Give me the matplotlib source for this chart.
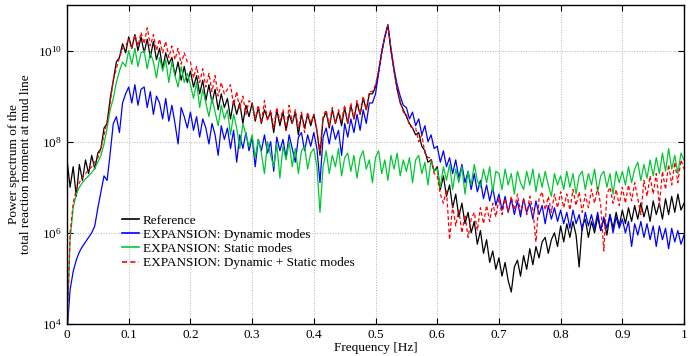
import numpy as np
import matplotlib
matplotlib.use("Agg")
import matplotlib.pyplot as plt
from matplotlib.ticker import FixedLocator, FuncFormatter

plt.rcParams['font.family'] = ['Liberation Serif', 'DejaVu Serif']
plt.rcParams['mathtext.fontset'] = 'stix'

# frequency step of the spectra [Hz]
df = 0.005

# log10 of the power spectrum, one row per 0.1 Hz
ref_log = [
    7.60, 7.00, 7.45, 6.80, 7.50, 7.15, 7.60, 7.30, 7.70, 7.40, 7.75, 7.85, 8.30, 8.40, 8.95, 9.35, 9.75, 9.85, 10.15, 9.95,
    10.30, 10.05, 10.35, 10.00, 10.30, 9.95, 10.25, 9.85, 10.20, 9.80, 10.05, 9.60, 9.95, 9.70, 9.85, 9.45, 9.75, 9.35, 9.65, 9.30,
    9.55, 9.20, 9.45, 9.05, 9.35, 8.90, 9.25, 8.85, 9.15, 8.70, 9.05, 8.75, 8.95, 8.50, 8.90, 8.60, 8.85, 8.40, 8.80, 8.55,
    8.85, 8.45, 8.75, 8.40, 8.70, 8.50, 8.65, 8.20, 8.70, 8.35, 8.65, 8.25, 8.60, 8.40, 8.65, 8.15, 8.60, 8.30, 8.60, 8.35,
    8.60, 8.25, 7.70, 8.50, 8.65, 8.30, 8.70, 8.40, 8.65, 8.35, 8.75, 8.40, 8.80, 8.50, 8.85, 8.60, 8.95, 8.70, 9.05, 9.05,
    9.20, 9.55, 9.95, 10.30, 10.57, 10.00, 9.55, 9.15, 8.85, 8.70, 8.55, 8.40, 8.30, 8.15, 8.20, 7.90, 7.80, 7.55, 7.60, 7.35,
    7.45, 6.95, 7.25, 6.80, 7.05, 6.55, 6.85, 6.35, 6.65, 6.20, 6.45, 6.00, 6.25, 5.75, 6.05, 5.55, 5.85, 5.35, 5.60, 5.20,
    5.45, 5.05, 5.35, 4.95, 4.70, 5.25, 5.40, 5.05, 5.50, 5.20, 5.65, 5.30, 5.70, 5.45, 5.80, 5.90, 5.55, 5.85, 6.00, 5.70,
    6.15, 5.80, 6.20, 5.90, 6.25, 5.95, 5.25, 6.15, 6.30, 5.90, 6.25, 6.00, 6.35, 6.05, 6.30, 5.95, 6.40, 6.10, 6.45, 6.15,
    6.50, 6.20, 6.55, 6.25, 6.60, 6.30, 6.65, 6.35, 6.60, 6.25, 6.70, 6.40, 6.65, 6.30, 6.75, 6.40, 6.80, 6.45, 6.85, 6.50, 6.65,
]

dyn_log = [
    3.80, 4.75, 5.15, 5.40, 5.58, 5.70, 5.80, 5.90, 6.00, 6.15, 6.55, 6.90, 7.25, 7.15, 7.75, 8.40, 8.55, 8.20, 8.85, 9.05,
    9.20, 8.85, 9.25, 8.80, 9.15, 9.20, 8.75, 9.10, 8.60, 9.00, 8.85, 8.50, 8.95, 8.45, 8.80, 8.40, 7.95, 8.75, 8.55, 8.30,
    8.65, 8.25, 8.55, 8.10, 8.50, 8.30, 7.95, 8.40, 8.15, 7.70, 8.35, 8.05, 8.30, 7.85, 8.25, 7.55, 8.15, 7.85, 8.20, 7.80,
    8.10, 7.45, 8.05, 7.80, 8.15, 7.75, 8.00, 7.35, 8.10, 7.80, 8.05, 7.65, 8.15, 7.85, 7.55, 8.10, 8.20, 7.80, 8.15, 7.90,
    8.20, 7.85, 7.10, 8.10, 8.30, 7.95, 8.35, 8.05, 8.25, 7.70, 8.40, 8.10, 8.50, 8.20, 8.60, 8.25, 8.70, 8.40, 8.85, 8.85,
    9.05, 9.50, 9.95, 10.30, 10.55, 10.05, 9.60, 9.25, 9.00, 8.80, 8.75, 8.50, 8.65, 8.35, 8.50, 8.15, 8.35, 8.00, 8.15, 7.85,
    7.90, 7.55, 7.80, 7.45, 7.65, 7.30, 7.60, 7.20, 7.50, 7.10, 7.35, 6.95, 7.30, 6.90, 7.15, 6.75, 7.05, 6.70, 7.00, 6.60,
    6.85, 6.50, 6.80, 6.45, 6.75, 6.40, 6.70, 6.35, 6.75, 6.45, 6.65, 6.30, 6.70, 6.40, 6.60, 6.20, 6.60, 6.30, 6.55, 6.25,
    6.50, 6.20, 6.45, 6.10, 6.50, 6.20, 6.40, 6.05, 6.45, 6.15, 6.40, 6.10, 6.45, 6.05, 6.35, 6.10, 6.40, 6.00, 6.35, 6.10,
    6.30, 6.00, 6.25, 5.70, 6.20, 5.95, 6.25, 5.90, 6.20, 5.85, 6.15, 5.70, 6.15, 5.85, 6.10, 5.65, 6.10, 5.80, 6.05, 5.75, 5.95,
]

stat_log = [
    3.80, 5.85, 6.55, 6.85, 7.00, 7.10, 7.18, 7.25, 7.32, 7.42, 7.55, 7.70, 7.95, 8.30, 8.70, 8.95, 9.30, 9.55, 9.75, 9.65,
    10.00, 9.70, 10.05, 9.65, 9.95, 10.00, 9.60, 9.95, 9.75, 9.40, 9.85, 9.55, 9.80, 9.30, 9.75, 9.45, 9.20, 9.65, 9.30, 9.50,
    9.25, 8.95, 9.30, 8.75, 9.15, 8.85, 8.55, 8.95, 8.65, 8.35, 8.80, 8.50, 8.70, 8.15, 8.60, 8.30, 7.85, 8.40, 8.15, 7.90,
    8.15, 7.65, 8.05, 7.75, 7.30, 8.00, 7.70, 7.45, 7.95, 7.20, 7.90, 7.60, 8.00, 7.45, 7.85, 7.30, 7.80, 7.90, 7.40, 7.75,
    7.85, 7.45, 6.45, 7.45, 7.80, 7.30, 7.70, 7.45, 7.85, 7.25, 7.65, 7.75, 7.35, 7.70, 7.20, 7.65, 7.80, 7.40, 7.60, 7.10,
    7.65, 7.80, 7.30, 7.60, 7.15, 7.70, 7.40, 7.75, 7.25, 7.60, 7.35, 7.65, 7.10, 7.60, 7.70, 7.30, 7.55, 7.05, 7.60, 7.35,
    7.40, 7.00, 7.45, 7.15, 7.50, 6.95, 7.40, 7.10, 7.45, 6.85, 7.35, 7.05, 7.50, 7.15, 7.00, 7.40, 7.10, 7.45, 6.90, 7.35,
    7.30, 6.95, 7.40, 7.05, 7.30, 6.85, 7.35, 7.10, 6.95, 7.35, 7.05, 7.40, 6.90, 7.30, 7.00, 7.35, 7.05, 6.80, 7.30, 7.05,
    7.25, 6.95, 7.35, 7.00, 7.30, 6.85, 7.25, 7.35, 6.95, 7.30, 7.05, 7.40, 6.90, 7.25, 7.35, 7.00, 7.30, 6.85, 7.35, 7.10,
    7.35, 7.05, 7.45, 7.10, 7.40, 7.55, 7.15, 7.50, 7.20, 7.60, 7.25, 7.65, 7.30, 7.75, 7.35, 7.85, 7.40, 7.70, 7.30, 7.75, 7.60,
]

both_log = [
    3.80, 6.00, 6.65, 6.95, 7.10, 7.22, 7.30, 7.38, 7.45, 7.55, 7.65, 7.85, 8.15, 8.45, 8.85, 9.35, 9.60, 9.85, 10.05, 10.10,
    10.25, 10.05, 10.35, 10.10, 10.40, 10.15, 10.50, 10.10, 10.35, 10.00, 10.25, 9.95, 10.20, 9.85, 10.10, 9.80, 10.05, 9.70, 9.95, 9.75,
    9.75, 9.40, 9.65, 9.30, 9.60, 9.20, 9.50, 9.10, 9.45, 9.00, 9.30, 9.05, 9.15, 9.25, 8.80, 9.10, 8.70, 9.00, 8.60, 8.90,
    8.85, 8.50, 8.80, 8.40, 8.90, 8.45, 8.70, 8.30, 8.75, 8.45, 8.70, 8.25, 8.80, 8.40, 8.70, 8.30, 8.65, 8.20, 8.65, 8.40,
    8.60, 8.25, 7.80, 8.55, 8.70, 8.35, 8.75, 8.40, 8.70, 8.45, 8.80, 8.40, 8.85, 8.50, 8.90, 8.60, 9.00, 8.70, 9.10, 9.10,
    9.25, 9.55, 10.00, 10.30, 10.55, 10.05, 9.55, 9.15, 8.90, 8.65, 8.60, 8.35, 8.30, 8.30, 8.00, 8.15, 7.75, 7.65, 7.65, 7.30,
    7.25, 6.85, 6.65, 6.95, 5.85, 6.60, 6.15, 6.50, 6.00, 6.40, 5.90, 6.30, 6.45, 6.05, 6.55, 6.20, 6.60, 6.25, 6.65, 6.35,
    6.75, 6.40, 6.75, 6.45, 6.80, 6.50, 6.85, 6.45, 6.75, 6.40, 6.80, 6.50, 5.80, 6.75, 6.90, 6.50, 6.80, 6.45, 6.85, 6.55,
    6.90, 6.55, 6.85, 6.50, 6.95, 6.60, 6.90, 6.45, 6.85, 6.55, 6.95, 6.65, 7.00, 6.60, 5.60, 6.85, 7.00, 6.65, 6.95, 6.60,
    7.00, 6.65, 7.05, 6.70, 7.10, 6.75, 6.40, 7.15, 6.80, 7.25, 6.85, 7.30, 6.60, 7.35, 6.95, 7.50, 7.05, 7.55, 7.10, 7.60, 7.40,
]

labels = ['Reference',
          'EXPANSION: Dynamic modes',
          'EXPANSION: Static modes',
          'EXPANSION: Dynamic + Static modes']

freq = np.arange(len(ref_log)) * df

fig = plt.figure(figsize=(6.98, 3.56), dpi=100)
ax = fig.add_axes([0.096, 0.090, 0.884, 0.896])

ax.semilogy(freq, 10 ** np.array(ref_log), color='k', lw=0.9, label=labels[0])
ax.semilogy(freq, 10 ** np.array(dyn_log), color='#0000ff', lw=0.9, label=labels[1])
ax.semilogy(freq, 10 ** np.array(stat_log), color='#00c832', lw=0.9, label=labels[2])
ax.semilogy(freq, 10 ** np.array(both_log), color='#ff0000', lw=0.9, ls=(0, (3, 2)), label=labels[3])

ax.set_xlim(0, 1)
ax.set_ylim(1e4, 1e11)
ax.set_xticks(np.arange(0, 1.01, 0.1))
ax.xaxis.set_major_formatter(FuncFormatter(lambda v, p: '%g' % round(v, 1)))
ax.yaxis.set_major_locator(FixedLocator([1e4, 1e6, 1e8, 1e10]))
ax.yaxis.set_minor_locator(FixedLocator([]))
ax.tick_params(which='both', direction='in', top=True, right=True, labelsize=9.5, length=4, width=0.8)
ax.grid(True, ls=':', color='#b4b4b4', lw=0.7)
for s in ax.spines.values():
    s.set_linewidth(1.0)

ax.set_xlabel('Frequency [Hz]', fontsize=9.5, labelpad=1)
ax.set_ylabel('Power spectrum of the\ntotal reaction moment at mud line', fontsize=9.5, labelpad=4, linespacing=1.0)

leg = ax.legend(loc='upper left', bbox_to_anchor=(0.08, 0.36), frameon=False, fontsize=9.5,
                handlelength=1.3, handletextpad=0.3, labelspacing=0.15, borderaxespad=0)
for h in leg.get_lines():
    h.set_linewidth(1.2)

fig.savefig('out.png', dpi=100)
